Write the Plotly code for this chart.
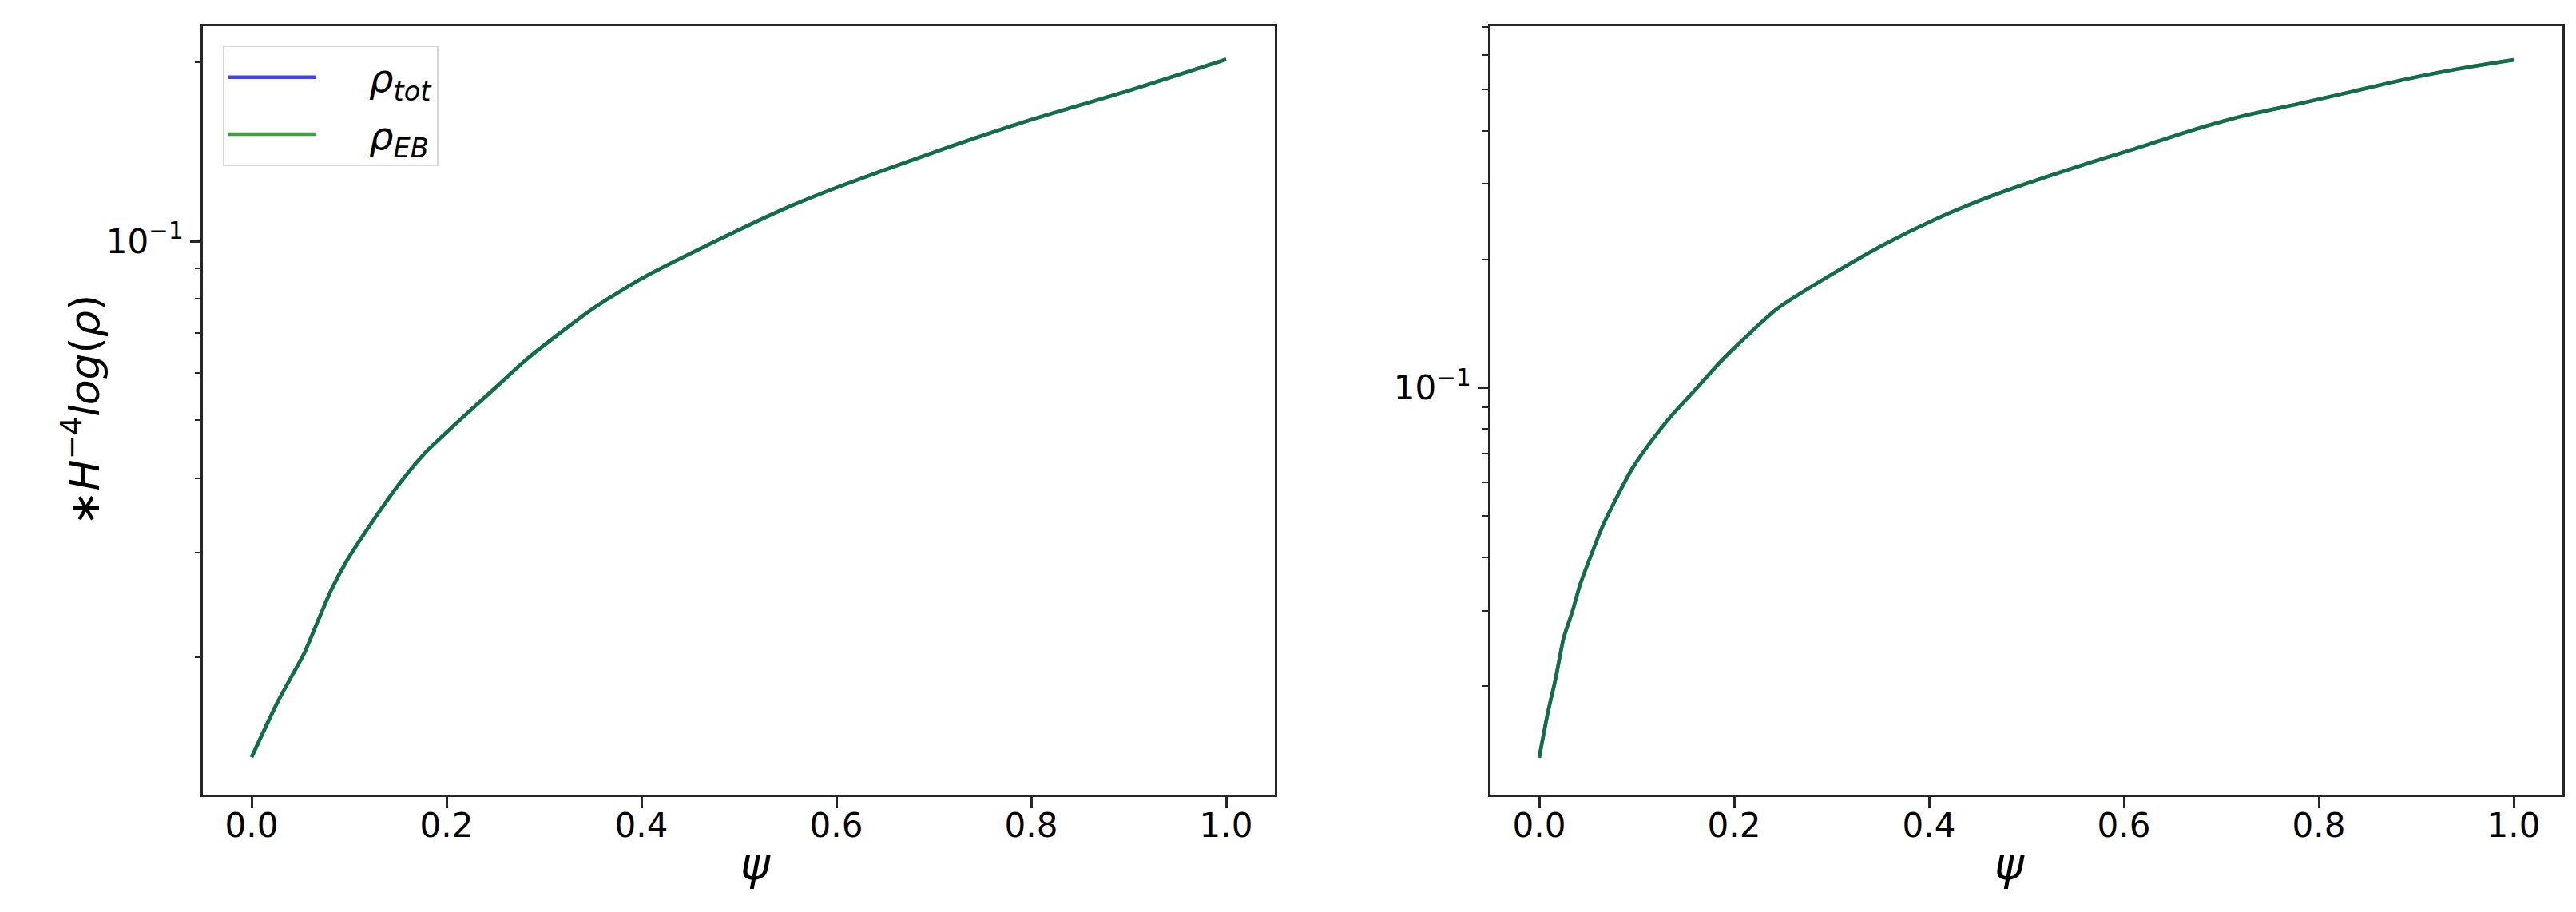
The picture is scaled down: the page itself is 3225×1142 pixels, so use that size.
import plotly.graph_objects as go

# values (both curves lie on top of each other)
psi_left = [0.0, 0.027, 0.054, 0.068, 0.082, 0.098, 0.123, 0.150, 0.177, 0.218,
            0.251, 0.284, 0.35, 0.4, 0.476, 0.55, 0.6, 0.7, 0.8, 0.9, 1.0]
rho_tot_left = [0.01358, 0.01686, 0.0203, 0.0230, 0.0260, 0.0291, 0.0336, 0.0388,
                0.0439, 0.0508, 0.0569, 0.0637, 0.0770, 0.0865, 0.1000, 0.1140,
                0.123, 0.141, 0.160, 0.179, 0.202]
rho_eb_left = list(rho_tot_left)

psi_right = [0.0, 0.009, 0.017, 0.025, 0.034, 0.042, 0.053, 0.064, 0.080, 0.096,
             0.113, 0.135, 0.162, 0.189, 0.244, 0.298, 0.353, 0.408, 0.462, 0.517,
             0.571, 0.615, 0.670, 0.724, 0.779, 0.833, 0.888, 0.943, 1.0]
rho_tot_right = [0.0136, 0.0174, 0.0209, 0.0259, 0.0299, 0.0346, 0.0404, 0.0468,
                 0.0556, 0.0650, 0.0739, 0.0856, 0.100, 0.117, 0.153, 0.183, 0.216,
                 0.249, 0.280, 0.310, 0.340, 0.365, 0.401, 0.434, 0.462, 0.493,
                 0.527, 0.558, 0.586]
rho_eb_right = list(rho_tot_right)

x_ticks = [0.0, 0.2, 0.4, 0.6, 0.8, 1.0]
x_labels = ["0.0", "0.2", "0.4", "0.6", "0.8", "1.0"]
minor_left = [0.02, 0.03, 0.04, 0.05, 0.06, 0.07, 0.08, 0.09, 0.2]
minor_right = [0.02, 0.03, 0.04, 0.05, 0.06, 0.07, 0.08, 0.09,
               0.2, 0.3, 0.4, 0.5, 0.6, 0.7]

BLUE = "rgba(0,0,255,0.75)"
GREEN = "rgba(0,128,0,0.75)"
FONT = "DejaVu Sans"
AX = "#262626"

W, H = 3225, 1142
PAD = "&nbsp;" * 4


def curve(x, y, color, **kw):
    return go.Scatter(x=x, y=y, mode="lines",
                      line=dict(color=color, width=4.5, shape="spline", smoothing=0.6),
                      **kw)


fig = go.Figure()
fig.add_trace(curve(psi_left, rho_tot_left, BLUE,
                    name=PAD + "<i>ρ</i><sub><i>tot</i></sub>",
                    legendgroup="a", xaxis="x", yaxis="y"))
fig.add_trace(curve(psi_left, rho_eb_left, GREEN,
                    name=PAD + "<i>ρ</i><sub><i>EB</i></sub>",
                    legendgroup="b", xaxis="x", yaxis="y"))
fig.add_trace(curve(psi_right, rho_tot_right, BLUE, showlegend=False,
                    xaxis="x2", yaxis="y2"))
fig.add_trace(curve(psi_right, rho_eb_right, GREEN, showlegend=False,
                    xaxis="x2", yaxis="y2"))

xcommon = dict(range=[-0.05, 1.05], tickvals=x_ticks, ticktext=x_labels,
               ticks="outside", ticklen=14, tickwidth=2.5, tickcolor=AX,
               ticklabelstandoff=-14,
               showline=True, linecolor=AX, linewidth=3, mirror=True,
               showgrid=False, zeroline=False,
               tickfont=dict(family=FONT, size=42, color="black"))


def ycommon(rng, minor_vals):
    return dict(type="log", range=rng, tickvals=[0.1],
                ticktext=["10<sup>−1</sup>"], ticks="outside", ticklen=13,
                tickwidth=2.5, tickcolor=AX,
                minor=dict(tickvals=minor_vals, ticks="outside", ticklen=7,
                           tickwidth=2, tickcolor=AX, showgrid=False),
                showline=True, linecolor=AX, linewidth=3, mirror=True,
                showgrid=False, zeroline=False,
                tickfont=dict(family=FONT, size=42, color="black"))


fig.update_layout(
    width=W, height=H,
    margin=dict(l=0, r=0, t=0, b=0),
    paper_bgcolor="white", plot_bgcolor="white",
    font=dict(family=FONT, color="black"),
    xaxis=dict(domain=[246 / W, 1588 / W], anchor="y", **xcommon),
    yaxis=dict(domain=[155 / H, 1117 / H], anchor="x",
               **ycommon([-1.930, -0.639], minor_left)),
    xaxis2=dict(domain=[1858 / W, 3200 / W], anchor="y2", **xcommon),
    yaxis2=dict(domain=[155 / H, 1117 / H], anchor="x2",
                **ycommon([-1.953, -0.1536], minor_right)),
    legend=dict(x=271 / W, y=1 - 49 / H, xanchor="left", yanchor="top",
                bgcolor="rgba(255,255,255,0.8)", bordercolor="#d6d6d6",
                borderwidth=2, font=dict(family=FONT, size=48),
                tracegroupgap=6, traceorder="grouped", itemwidth=110),
    showlegend=True,
)

# axis titles
for xc in [(246 + 1588) / 2 / W, (1858 + 3200) / 2 / W]:
    fig.add_annotation(x=xc, y=1 - 1108 / H, xref="paper", yref="paper",
                       text="<i>ψ</i>", showarrow=False,
                       font=dict(family=FONT, size=56, color="black"))
fig.add_annotation(x=58 / W, y=1 - 506 / H, xref="paper", yref="paper",
                   text="∗<i>H</i><sup>−4</sup><i>log</i>(<i>ρ</i>)",
                   textangle=-90, showarrow=False,
                   font=dict(family=FONT, size=52, color="black"))

fig.write_html("out.html")
